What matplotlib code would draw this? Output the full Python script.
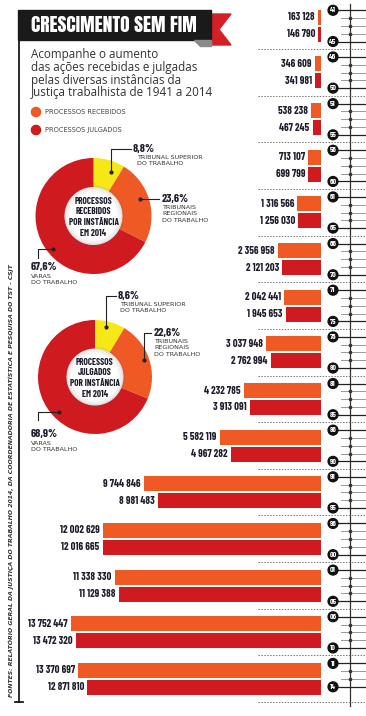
import matplotlib
matplotlib.use('agg')
import matplotlib.pyplot as plt
from matplotlib import font_manager
from matplotlib.patches import Rectangle, Polygon, Circle

# data
start_years = [1941, 1946, 1951, 1956, 1961, 1966, 1971, 1976, 1981, 1986,
               1991, 1996, 2001, 2006, 2011]
end_years = [1945, 1950, 1955, 1960, 1965, 1970, 1975, 1980, 1985, 1990,
             1995, 2000, 2005, 2010, 2014]
received = [163128, 346609, 538238, 713107, 1316566, 2356958, 2042441, 3037948,
            4232785, 5582119, 9744846, 12002629, 11338330, 13752447, 13370697]
judged = [146790, 341981, 467245, 699799, 1256030, 2121203, 1945653, 2762994,
          3913091, 4967282, 8981483, 12016665, 11129388, 13472320, 12871810]

instances = ['TRIBUNAL SUPERIOR\nDO TRABALHO', 'TRIBUNAIS\nREGIONAIS\nDO TRABALHO',
             'VARAS\nDO TRABALHO']
share_received = [8.8, 23.6, 67.6]
share_judged = [8.6, 22.6, 68.9]

ORANGE = '#ef5a24'
RED = '#cf1a20'
YELLOW = '#f6e717'
DARK = '#1d1d2b'

names = {f.name for f in font_manager.fontManager.ttflist}


def pick(*cands):
    for c in cands:
        if c in names:
            return c
    return 'DejaVu Sans'


COND = pick('Barlow Condensed', 'Asap Condensed', 'Archivo Narrow')
HEAD = pick('Anton', 'Bebas Neue', 'Oswald', 'League Gothic', 'Barlow Condensed')
BODY = pick('Open Sans', 'Noto Sans')

W, H = 366, 716
fig = plt.figure(figsize=(W / 100, H / 100), dpi=100)
fig.patch.set_facecolor('white')

ax = fig.add_axes([0, 0, 1, 1])
ax.set_xlim(0, W)
ax.set_ylim(H, 0)
ax.axis('off')
ax.set_zorder(5)

# group geometry (pixels)
G0, GSTEP = 2.3, 46.65
BAR_END = 321
tops = [G0 + GSTEP * i for i in range(len(received))]

# bars
bax = fig.add_axes([0, 0, BAR_END / W, 1])
vmax = max(received)
bax.set_xlim(vmax * BAR_END / 250, 0)
bax.set_ylim(H, 0)
bax.axis('off')
y_rec = [t + 15 for t in tops]
y_jud = [t + 32 for t in tops]
bax.barh(y_rec, received, height=15, color=ORANGE, linewidth=0)
bax.barh(y_jud, judged, height=15, color=RED, linewidth=0)


def fmt(v):
    return f'{v:,}'.replace(',', ' ')


for ys, vals in ((y_rec, received), (y_jud, judged)):
    for y, v in zip(ys, vals):
        bax.annotate(fmt(v), (v, y), xytext=(-2.2, 0), textcoords='offset points',
                     ha='right', va='center', fontsize=7.6, fontweight='bold',
                     family=COND, color=DARK)

# year axis
ax.plot([350, 350], [4, 706], color='#333333', lw=0.9, zorder=2)
for t, y0, y1 in zip(tops, start_years, end_years):
    for k, yr in enumerate(range(y0, y1 + 1)):
        y = t + 8 + 7.8 * k
        if yr in (y0, y1):
            ax.plot([333, W], [y, y], color='#222222', lw=0.9, zorder=2)
            ax.add_patch(Circle((333, y), 4.9, color='#111111', zorder=3))
            ax.text(333, y + 0.2, f'{yr % 100:02d}', color='white', fontsize=5.6,
                    fontweight='bold', family=COND, ha='center', va='center', zorder=4)
        else:
            ax.plot([341, W], [y, y], color='#9a9a9a', lw=0.7, zorder=1)
            ax.plot([350], [y], marker='o', ms=1.6, color='#333333', zorder=2)

for t in tops[1:] + [G0 + GSTEP * len(tops)]:
    ax.plot([258, W], [t, t], color='#777777', lw=0.7, ls=(0, (1.5, 1.5)))

# title
ax.add_patch(Polygon([(205, 14), (231, 14), (219, 29.5), (231, 45), (205, 45)],
                     closed=True, color='#d51f26', zorder=1))
ax.add_patch(Rectangle((18, 10), 193, 30, color='#1a1a1a', zorder=2))
ax.add_patch(Polygon([(194, 40), (211, 40), (211, 45.5), (200, 45.5)],
                     closed=True, color='#8a8a8a', zorder=2))
title = ax.text(31, 25.5, 'CRESCIMENTO SEM FIM', color='white', fontsize=14,
                fontweight='bold', family=HEAD, ha='left', va='center', zorder=3)
r = fig.canvas.get_renderer()
tw = title.get_window_extent(r).width
title.set_fontsize(14 * 166 / tw)

ax.plot([19, 19], [40, 702], color='#1a1a1a', lw=1.3)
ax.plot([15, 23], [702, 702], color='#1a1a1a', lw=1.3)

ax.text(31, 48, 'Acompanhe o aumento\ndas ações recebidas e julgadas\n'
        'pelas diversas instâncias da\nJustiça trabalhista de 1941 a 2014',
        fontsize=8.4, family=BODY, color='#333333', va='top', ha='left', linespacing=0.98)

# legend
for y, c, lab in ((112, ORANGE, 'PROCESSOS RECEBIDOS'), (130, RED, 'PROCESSOS JULGADOS')):
    ax.add_patch(Circle((36, y), 4.6, color=c))
    ax.text(45, y, lab, fontsize=4.8, color='#444444', va='center', ha='left')

# source
ax.text(11, 697, 'FONTES: RELATÓRIO GERAL DA JUSTIÇA DO TRABALHO 2014, DA COORDENADORIA '
        'DE ESTATÍSTICA E PESQUISA DO TST - CSJT', rotation=90, fontsize=4.4,
        fontstyle='italic', fontweight='bold', color='#333333', ha='center', va='bottom')


def donut(cx, cy, rad, shares, center_text):
    dax = fig.add_axes([(cx - rad) / W, (H - cy - rad) / H, 2 * rad / W, 2 * rad / H])
    dax.pie(shares, colors=[YELLOW, ORANGE, RED], startangle=90, counterclock=False,
            wedgeprops=dict(width=0.5, linewidth=0))
    for i, a in enumerate((0.12, 0.07, 0.035)):
        dax.add_patch(Circle((0, 0), 0.5 - 0.035 * i, fill=False, ec='#555555',
                             lw=2.2, alpha=a))
    dax.set_xlim(-1, 1)
    dax.set_ylim(-1, 1)
    dax.set_aspect('equal')
    dax.axis('off')
    dax.text(0, -0.02, center_text, ha='center', va='center', fontsize=6.6,
             fontweight='bold', family=COND, color=DARK, linespacing=1.25)


def callout(path, dot, px, py, pct, dx, dy, desc):
    xs, ys = zip(*path)
    ax.plot(xs, ys, color='#222222', lw=0.8)
    ax.plot([dot[0]], [dot[1]], marker='o', ms=2, color='#222222')
    ax.text(px, py, pct, fontsize=8.5, fontweight='bold', family=COND, color=DARK,
            ha='left', va='center')
    ax.text(dx, dy, desc, fontsize=4.6, color='#333333', ha='left', va='top',
            linespacing=1.35)


def pct(v):
    return f'{v:.1f}%'.replace('.', ',')


donut(93.5, 216, 58, share_received, 'PROCESSOS\nRECEBIDOS\nPOR INSTÂNCIA\nEM 2014')
callout([(111, 172), (111, 149), (131, 149)], (111, 172), 133, 149,
        pct(share_received[0]), 137, 155, instances[0])
callout([(140, 199), (159, 199)], (140, 199), 162, 199,
        pct(share_received[1]), 162, 205, instances[1])
callout([(53, 249), (38, 249), (38, 258)], (53, 249), 31, 267,
        pct(share_received[2]), 31, 274, instances[2])

donut(95, 377, 57, share_judged, 'PROCESSOS\nJULGADOS\nPOR INSTÂNCIA\nEM 2014')
callout([(106, 327), (106, 296), (116, 296)], (106, 327), 118, 296,
        pct(share_judged[0]), 120, 302, instances[0])
callout([(144, 360), (144, 333), (151, 333)], (144, 360), 154, 333,
        pct(share_judged[1]), 154, 339, instances[1])
callout([(59, 412), (38, 412), (38, 420)], (59, 412), 31, 434,
        pct(share_judged[2]), 31, 441, instances[2])

fig.savefig('out.png', dpi=100, facecolor='white')
